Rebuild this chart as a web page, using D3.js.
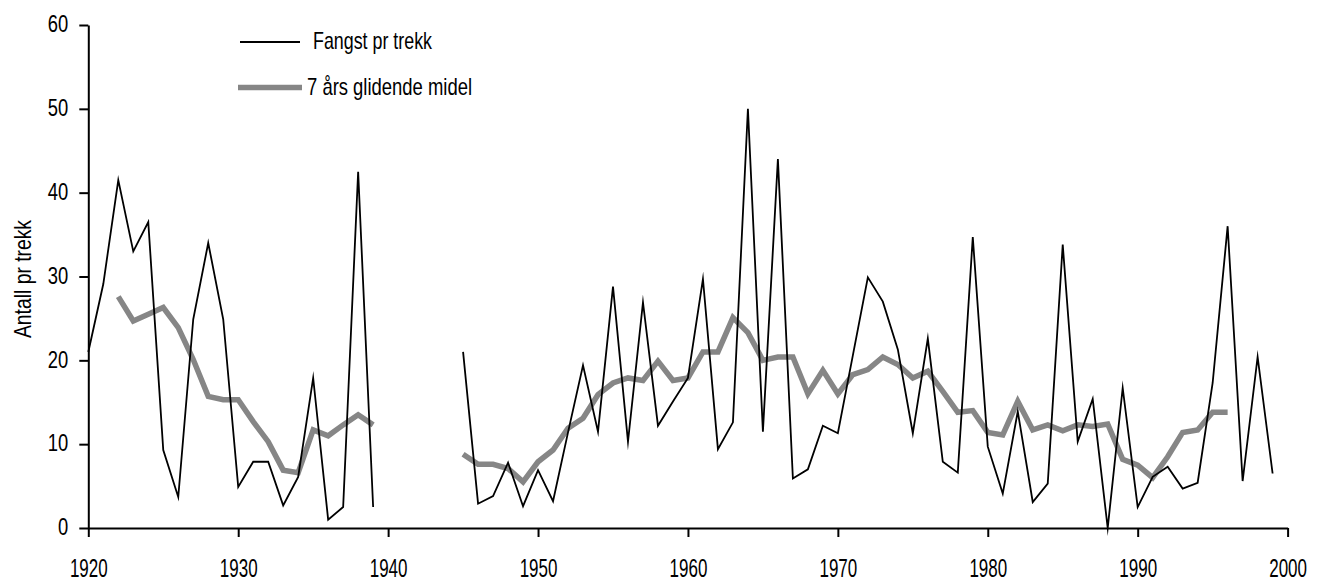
<!DOCTYPE html>
<html><head><meta charset="utf-8">
<script src="https://cdn.jsdelivr.net/npm/d3@7/dist/d3.min.js"></script>
<style>
body{margin:0;background:#fff}
svg{display:block}
text{font-family:'Liberation Sans','Arial',sans-serif;fill:#000}
</style>
</head><body>
<svg id="c" width="1319" height="582"></svg>
<script>
// ---- data ----
const yearsA = d3.range(1920, 1940);           // 1920–1939
const yearsB = d3.range(1945, 2000);           // 1945–1999
const fangstA = [21.0, 29.1, 41.5, 33.0, 36.5, 9.3, 3.7, 24.9, 34.0, 24.9,
                 4.9, 7.9, 7.9, 2.7, 6.1, 17.9, 1.0, 2.5, 42.5, 2.5];
const fangstB = [21.0, 2.9, 3.8, 7.8, 2.6, 6.9, 3.2, 11.4, 19.4, 11.5,
                 28.8, 10.3, 26.9, 12.2, 15.1, 17.9, 29.7, 9.4, 12.6, 50.0,
                 11.5, 44.0, 5.9, 7.0, 12.2, 11.3, 20.6, 29.9, 27.0, 21.3,
                 11.3, 22.6, 7.9, 6.6, 34.7, 9.7, 4.1, 13.9, 3.1, 5.3,
                 33.8, 10.3, 15.4, 0.0, 16.7, 2.5, 6.1, 7.3, 4.7, 5.4,
                 17.3, 36.0, 5.6, 20.4, 6.5];
const midelYearsA = d3.range(1922, 1940);      // 1922–1939
const midelYearsB = d3.range(1945, 1997);      // 1945–1996
const midelA = [27.6, 24.7, 25.5, 26.3, 23.9, 20.1, 15.7, 15.3, 15.3, 12.7,
                10.3, 6.9, 6.6, 11.7, 11.0, 12.3, 13.5, 12.3];
const midelB = [8.8, 7.6, 7.6, 7.1, 5.5, 7.9, 9.3, 11.9, 13.1, 15.9,
                17.3, 17.9, 17.6, 19.9, 17.6, 17.9, 21.0, 21.0, 25.1, 23.3,
                20.0, 20.4, 20.4, 16.0, 18.8, 16.0, 18.3, 18.9, 20.4, 19.5,
                17.9, 18.7, 16.3, 13.8, 14.0, 11.4, 11.1, 15.1, 11.7, 12.3,
                11.6, 12.3, 12.1, 12.4, 8.2, 7.5, 6.0, 8.5, 11.4, 11.7,
                13.8, 13.8];
const xTicks = [1920, 1930, 1940, 1950, 1960, 1970, 1980, 1990, 2000];
const yTicks = [0, 10, 20, 30, 40, 50, 60];
const seriesNames = ["Fangst pr trekk", "7 års glidende midel"];
const yTitle = "Antall pr trekk";

// ---- chart ----
const svg = d3.select("#c");
const x = d3.scaleLinear().domain([1920, 2000]).range([88.3, 1287.6]);
const y = d3.scaleLinear().domain([0, 60]).range([528, 25]);

const zip = (ys, vs) => ys.map((yr, i) => [yr, vs[i]]);
const line = d3.line().x(d => x(d[0])).y(d => y(d[1]));

// moving average (thick grey)
[zip(midelYearsA, midelA), zip(midelYearsB, midelB)].forEach(seg => {
  svg.append("path").attr("d", line(seg))
    .attr("fill", "none").attr("stroke", "#868686")
    .attr("stroke-width", 5.5).attr("stroke-linejoin", "miter");
});
// catch per haul (thin black)
[zip(yearsA, fangstA), zip(yearsB, fangstB)].forEach(seg => {
  svg.append("path").attr("d", line(seg))
    .attr("fill", "none").attr("stroke", "#000")
    .attr("stroke-width", 1.8).attr("stroke-linejoin", "miter")
    .attr("stroke-miterlimit", 10);
});

// axes
const sxX = 0.68, sxY = 0.8;
const gx = svg.append("g").attr("transform", "translate(0,528)")
  .call(d3.axisBottom(x).tickValues(xTicks).tickFormat(d3.format("d"))
        .tickSize(9).tickSizeOuter(0));
gx.selectAll("text").attr("y", 49).attr("dy", null)
  .style("font-size", "25px").attr("transform", `scale(${sxX},1)`);

const gy = svg.append("g").attr("transform", "translate(88.3,0)")
  .call(d3.axisLeft(y).tickValues(yTicks).tickSize(9).tickSizeOuter(0));
gy.selectAll("text").attr("x", -20 / sxY).attr("dy", "0.29em")
  .style("font-size", "23px").attr("transform", `scale(${sxY},1)`);

[gx, gy].forEach(g => {
  g.select(".domain").attr("stroke", "#000").attr("stroke-width", 2);
  g.selectAll(".tick line").attr("stroke", "#000").attr("stroke-width", 2);
  g.selectAll("text").attr("fill", "#000");
});

// y title
svg.append("text")
  .attr("transform", "translate(31,279) rotate(-90)")
  .attr("text-anchor", "middle")
  .style("font-size", "24px")
  .attr("textLength", 118).attr("lengthAdjust", "spacingAndGlyphs")
  .text(yTitle);

// legend
const leg = svg.append("g");
leg.append("line").attr("x1", 240).attr("x2", 300).attr("y1", 42).attr("y2", 42)
  .attr("stroke", "#000").attr("stroke-width", 1.8);
leg.append("text").attr("x", 313).attr("y", 49).style("font-size", "24px")
  .attr("textLength", 119).attr("lengthAdjust", "spacingAndGlyphs")
  .text(seriesNames[0]);
leg.append("line").attr("x1", 238).attr("x2", 302).attr("y1", 87.5).attr("y2", 87.5)
  .attr("stroke", "#868686").attr("stroke-width", 5.5);
leg.append("text").attr("x", 307).attr("y", 95).style("font-size", "24px")
  .attr("textLength", 165).attr("lengthAdjust", "spacingAndGlyphs")
  .text(seriesNames[1]);
</script>
</body></html>
